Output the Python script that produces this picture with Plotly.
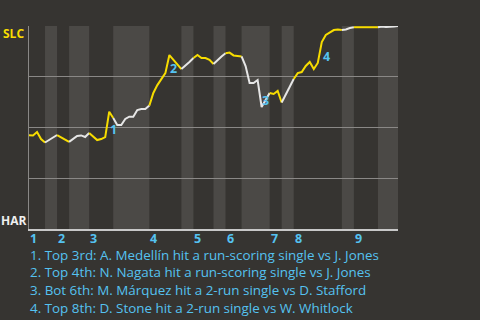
import plotly.graph_objects as go

# Win probability for SLC (%) after each plate appearance (index 0 = first PA)
win_prob = [
    46.2, 46.1, 47.8, 44.3, 42.6, 43.8, 45.1, 46.3, 45.3, 44.1,
    42.9, 44.3, 45.8, 46.1, 45.3, 47.3, 45.6, 43.8, 44.3, 45.3,
    57.8, 54.7, 51.2, 51.2, 54.2, 55.3, 55.3, 58.6, 59.1, 59.1,
    60.8, 67.0, 70.9, 73.9, 76.8, 85.7, 83.3, 81.3, 78.8, 80.8,
    82.3, 84.2, 85.7, 84.2, 84.2, 83.3, 81.3, 83.3, 85.0, 86.6,
    86.9, 85.5, 85.4, 85.0, 80.3, 71.9, 71.9, 73.4, 60.1, 63.5,
    67.0, 66.5, 68.0, 62.3, 66.0, 70.4, 73.9, 76.8, 77.3, 80.3,
    82.3, 78.8, 81.8, 92.1, 95.6, 97.0, 98.0, 98.3, 98.0, 98.3,
    99.0, 99.4, 99.4, 99.4, 99.4, 99.4, 99.4, 99.4, 99.8, 99.5,
    99.5, 99.8, 100.0,
]
# Half-inning boundaries (PA index where each half starts / ends)
half_bounds = [0, 4, 7, 10, 15, 21, 30, 38, 41, 46, 49, 53, 60, 63, 66, 78, 81, 87, 92]
inning_labels = ["1", "2", "3", "4", "5", "6", "7", "8", "9"]
key_events = [20, 35, 58, 73]
event_labels = ["1", "2", "3", "4"]
event_notes = [
    "1. Top 3rd: A. Medellín hit a run-scoring single vs J. Jones",
    "2. Top 4th: N. Nagata hit a run-scoring single vs J. Jones",
    "3. Bot 6th: M. Márquez hit a 2-run single vs D. Stafford",
    "4. Top 8th: D. Stone hit a 2-run single vs W. Whitlock",
]
teams = ["SLC", "HAR"]

BG = "#363431"
BAND = "#4b4946"
GRID = "#8a8886"
YELLOW = "#f7dc00"
WHITE = "#e6e6e6"
BLUE = "#55c2f0"
FONT = "Open Sans, sans-serif"

fig = go.Figure()

shapes = []
for i in range(len(half_bounds) - 1):
    a, b = half_bounds[i], half_bounds[i + 1]
    if i % 2 == 1:
        shapes.append(dict(type="rect", xref="x", yref="y", x0=a, x1=b, y0=0, y1=100,
                           fillcolor=BAND, line_width=0, layer="below"))
    xs = list(range(a, b + 1))
    ys = [win_prob[k] for k in xs]
    fig.add_trace(go.Scatter(x=xs, y=ys, mode="lines",
                             line=dict(color=YELLOW if i % 2 == 0 else WHITE, width=2),
                             hoverinfo="skip", showlegend=False))

annotations = []
# team labels
annotations.append(dict(xref="paper", yref="y", x=0, y=100, xanchor="right", yanchor="top",
                        xshift=-4, yshift=2, borderpad=0, text="<b>%s</b>" % teams[0],
                        showarrow=False, font=dict(family=FONT, size=12, color=YELLOW)))
annotations.append(dict(xref="paper", yref="y", x=0, y=0, xanchor="right", yanchor="bottom",
                        xshift=-2, yshift=-1, borderpad=0, text="<b>%s</b>" % teams[1],
                        showarrow=False, font=dict(family=FONT, size=12, color="#f0f0f0")))
# inning labels
inning_starts = half_bounds[0:-1:2]
for lab, s in zip(inning_labels, inning_starts):
    annotations.append(dict(xref="x", yref="paper", x=s, y=0, xanchor="left", yanchor="top",
                            yshift=0, xshift=0, borderpad=0, text="<b>%s</b>" % lab,
                            showarrow=False, font=dict(family=FONT, size=12.5, color=BLUE)))
# key event markers
shifts = [(4, -18), (4, -13), (4, 7), (5, -14)]
for lab, k, (dx, dy) in zip(event_labels, key_events, shifts):
    annotations.append(dict(xref="x", yref="y", x=k, y=win_prob[k], xanchor="center",
                            yanchor="middle", xshift=dx, yshift=dy, borderpad=0,
                            text="<b>%s</b>" % lab, showarrow=False,
                            font=dict(family=FONT, size=12.5, color=BLUE)))
# notes
H = 203.0
for j, note in enumerate(event_notes):
    ypix = 25.5 + j * 17.7
    annotations.append(dict(xref="paper", yref="paper", x=0, y=-ypix / H, xanchor="left",
                            yanchor="middle", xshift=0, borderpad=0, text=note,
                            showarrow=False, font=dict(family=FONT, size=13.4, color=BLUE)))

fig.update_layout(
    width=480, height=320,
    margin=dict(l=29, r=82, t=26, b=91),
    paper_bgcolor=BG, plot_bgcolor=BG,
    shapes=shapes, annotations=annotations,
    xaxis=dict(range=[0, 92], showgrid=False, zeroline=False, showticklabels=False,
               showline=True, linecolor="#c8c8c8", linewidth=1.5, fixedrange=True),
    yaxis=dict(range=[0, 100], tickvals=[0, 25, 50, 75, 100], showticklabels=False,
               gridcolor=GRID, gridwidth=1, zeroline=False,
               showline=True, linecolor=GRID, linewidth=1, fixedrange=True),
)

fig.write_html("out.html", config={"displayModeBar": False})
